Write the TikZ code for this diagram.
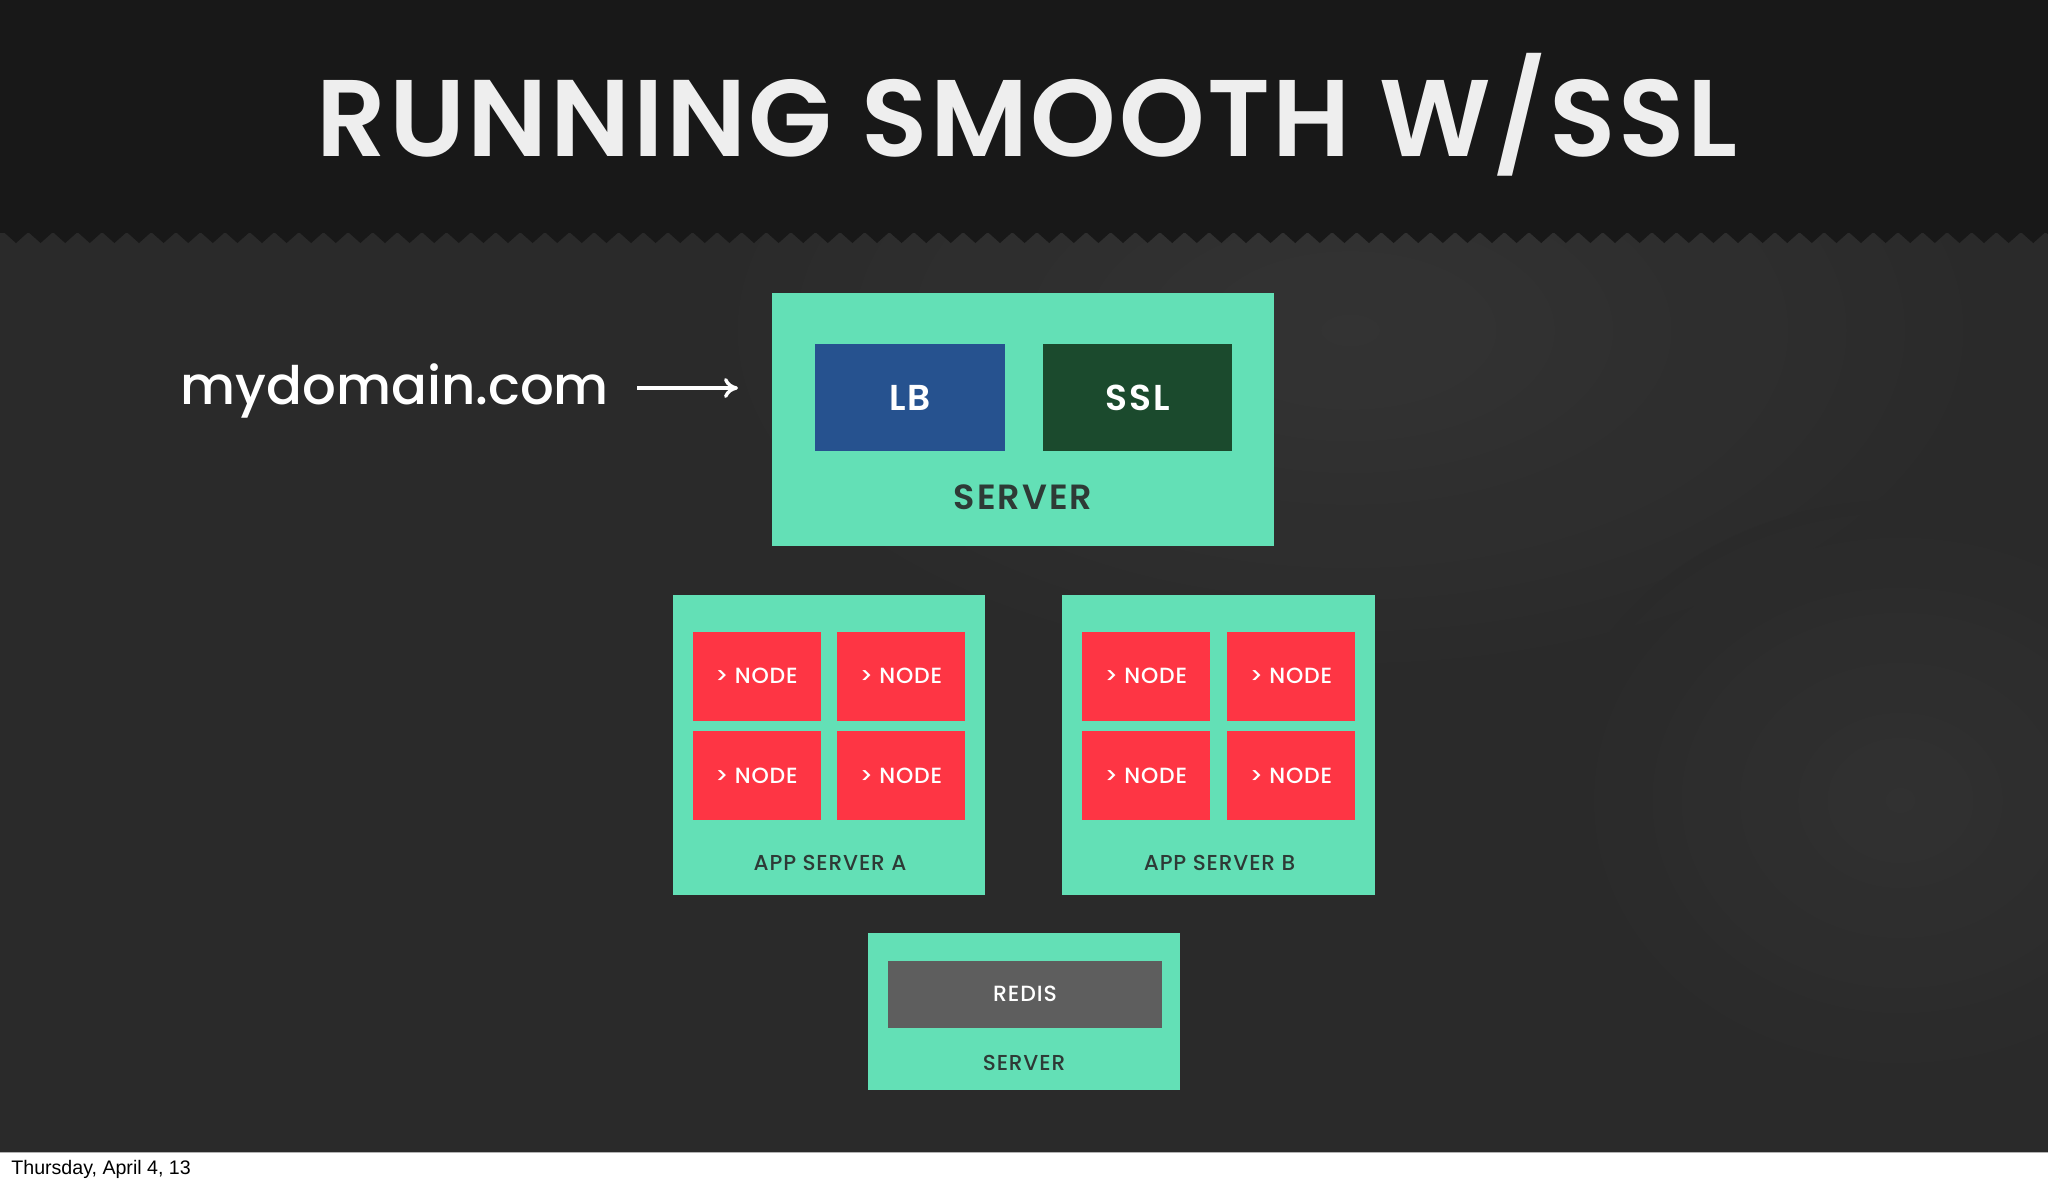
\documentclass[tikz,border=0pt]{standalone}
\usepackage{fontspec}
\setmainfont{Poppins}
\newfontfamily\titlefont{Poppins SemiBold}[LetterSpace=2.4]
\newfontfamily\domfont{Poppins Medium}[LetterSpace=0]
\newfontfamily\labfont{Poppins SemiBold}[LetterSpace=6]
\newfontfamily\smlabfont{Poppins Medium}[LetterSpace=4]
\newfontfamily\footfont{Liberation Sans}
\usetikzlibrary{arrows.meta}
\definecolor{band}{HTML}{181818}
\definecolor{bgdark}{HTML}{2A2A2A}
\definecolor{bglight}{HTML}{363636}
\definecolor{teal}{HTML}{63E0B6}
\definecolor{nodered}{HTML}{FE3544}
\definecolor{lbblue}{HTML}{26528F}
\definecolor{sslgreen}{HTML}{1B4A2D}
\definecolor{redisgray}{HTML}{5E5E5E}
\definecolor{labdark}{HTML}{2E3A36}
\definecolor{titlewhite}{HTML}{EEEEEE}
\tikzset{
  serverbox/.style={fill=teal, draw=none, inner sep=0pt},
  nodebox/.style={fill=nodered, draw=none, inner sep=0pt, minimum width=64pt, minimum height=44.5pt,
     text=white, font=\smlabfont\fontsize{11}{13}\selectfont},
  innerbox/.style={draw=none, inner sep=0pt, text=white},
  biglabel/.style={text=labdark, inner sep=0pt, font=\labfont\fontsize{17.5}{20}\selectfont},
  smalllabel/.style={text=labdark, inner sep=0pt, font=\smlabfont\fontsize{10.8}{13}\selectfont},
}
\begin{document}
\begin{tikzpicture}[x=0.5pt,y=-0.5pt]
\useasboundingbox (0,0) rectangle (2048,1184);
% background
\fill[bgdark] (0,0) rectangle (2048,1152);
\shade[inner color=bglight, outer color=bgdark, opacity=0.8] (1350,330) ellipse (700 and 380);
\shade[inner color=bglight, outer color=bgdark, opacity=0.6] (1900,800) ellipse (350 and 300);
% title band with zigzag
\fill[band] (0,0) rectangle (2048,233);
\foreach \k in {0,...,83} {
  \fill[band] ({3.7+24.6*\k},232) -- ({16+24.6*\k},243) -- ({28.3+24.6*\k},232) -- cycle;
}
% footer strip
\fill[white] (0,1152) rectangle (2048,1184);
\draw[gray!60, line width=0.5pt] (0,1152) -- (2048,1152);
\node[anchor=base west, inner sep=0pt, font=\footfont\fontsize{9.8}{12}\selectfont, text=black] (footer) at (11,1174) {Thursday, April 4, 13};

% title
\node[anchor=base, inner sep=0pt, text=titlewhite, font=\titlefont\fontsize{54.5}{60}\selectfont] (title) at (1027,156) {RUNNING SMOOTH W/SSL};

% domain
\node[anchor=base west, inner sep=0pt, text=white, font=\domfont\fontsize{26.5}{30}\selectfont] (dom) at (180,404) {mydomain.com};

% top server
\node[serverbox, minimum width=251pt, minimum height=126.5pt] (srv) at (1023,419.5) {};
\node[innerbox, fill=lbblue, minimum width=95pt, minimum height=53.5pt, font=\labfont\fontsize{18}{20}\selectfont] (lb) at (910,397.5) {LB};
\node[innerbox, fill=sslgreen, minimum width=94.5pt, minimum height=53.5pt, font=\labfont\fontsize{18}{20}\selectfont] (ssl) at (1137.5,397.5) {SSL};
\node[biglabel] (srvlab) at (1023,497) {SERVER};

% arrow
\coordinate (arrstart) at (637,388);
\coordinate (arrend) at (738,388);
\draw[white, line width=1.7pt, -{To[length=7pt,width=10pt,line width=1.7pt]}] (arrstart) -- (arrend);

% app server A
\node[serverbox, minimum width=156pt, minimum height=150pt] (appa) at (829,745) {};
\node[nodebox] (a1) at (756.5,676) {> NODE};
\node[nodebox] (a2) at (901,676) {> NODE};
\node[nodebox] (a3) at (756.5,775.5) {> NODE};
\node[nodebox] (a4) at (901,775.5) {> NODE};
\node[smalllabel] (appalab) at (830,862.5) {APP SERVER A};

% app server B
\node[serverbox, minimum width=156.5pt, minimum height=150pt] (appb) at (1218.5,745) {};
\node[nodebox] (b1) at (1146,676) {> NODE};
\node[nodebox] (b2) at (1291,676) {> NODE};
\node[nodebox] (b3) at (1146,775.5) {> NODE};
\node[nodebox] (b4) at (1291,775.5) {> NODE};
\node[smalllabel] (appblab) at (1219.5,862.5) {APP SERVER B};

% redis server
\node[serverbox, minimum width=156pt, minimum height=78.5pt] (rsrv) at (1024,1011.5) {};
\node[innerbox, fill=redisgray, minimum width=137pt, minimum height=33.5pt, font=\smlabfont\fontsize{11}{13}\selectfont] (redis) at (1025,994) {REDIS};
\node[smalllabel] (rsrvlab) at (1024,1063) {SERVER};
\end{tikzpicture}
\end{document}
